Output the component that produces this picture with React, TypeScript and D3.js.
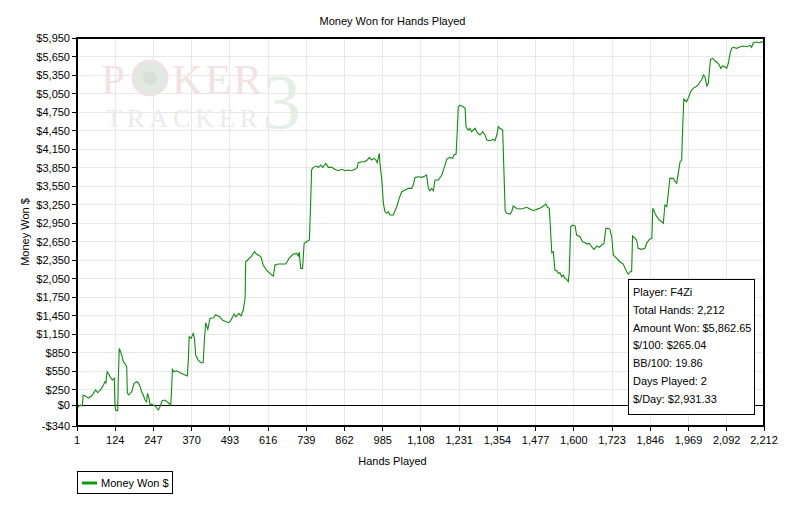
import React from "react";
import * as d3 from "d3";

const hands = [1,11,18,21,32,37,48,61,68,80,86,91,94,98,105,107,115,121,123,125,132,134,137,139,145,150,155,161,163,168,177,185,193,198,204,209,214,220,225,228,233,236,241,252,263,268,275,284,295,303,306,308,313,322,336,349,356,359,362,368,375,379,383,391,400,407,411,415,422,429,440,447,461,469,488,493,507,512,522,529,536,542,544,550,563,572,579,593,600,611,628,633,638,649,673,684,697,708,713,716,721,727,732,740,749,753,756,761,772,778,785,792,802,810,821,831,842,853,864,874,885,896,903,906,917,928,935,942,949,957,963,967,971,974,976,982,987,992,998,1003,1008,1019,1030,1038,1046,1057,1067,1078,1083,1089,1099,1110,1121,1126,1132,1137,1142,1148,1153,1164,1175,1182,1191,1201,1210,1214,1221,1225,1228,1234,1244,1250,1253,1260,1266,1271,1282,1289,1298,1307,1314,1320,1330,1341,1346,1352,1357,1362,1371,1375,1379,1384,1395,1400,1405,1416,1427,1437,1448,1459,1470,1480,1491,1502,1510,1515,1521,1525,1529,1534,1539,1545,1550,1555,1561,1566,1571,1577,1582,1585,1590,1596,1604,1609,1620,1628,1636,1643,1650,1657,1665,1674,1682,1690,1697,1703,1711,1716,1722,1727,1738,1748,1759,1765,1770,1775,1781,1786,1789,1797,1802,1807,1818,1829,1834,1843,1851,1854,1861,1867,1875,1883,1888,1893,1899,1904,1909,1920,1926,1931,1936,1942,1947,1950,1954,1963,1968,1974,1979,1984,1993,2000,2006,2011,2017,2022,2028,2033,2036,2040,2047,2054,2062,2068,2073,2079,2086,2092,2097,2103,2108,2113,2124,2135,2145,2156,2167,2172,2178,2188,2199,2205,2212];

const moneyWon = [-50,0,-16,162,135,113,146,243,199,271,324,378,357,540,486,459,405,433,28,-81,-92,433,919,892,811,702,676,621,190,162,216,352,378,362,297,216,162,81,53,190,109,0,16,-16,-81,-28,70,81,37,0,324,579,540,556,514,486,470,702,1107,1081,1162,1081,811,729,686,686,1054,1334,1227,1405,1415,1459,1431,1378,1334,1350,1475,1431,1487,1443,1540,1730,2323,2351,2415,2485,2448,2404,2270,2188,2107,2091,2270,2286,2286,2383,2448,2459,2415,2480,2216,2216,2621,2647,2675,3296,3810,3853,3874,3850,3891,3853,3918,3853,3853,3821,3798,3821,3798,3810,3798,3821,3853,3928,3944,3944,3972,4015,3972,3999,3972,3928,4015,4080,3918,3647,3270,3134,3108,3134,3080,3080,3215,3351,3458,3485,3513,3513,3566,3691,3701,3691,3712,3729,3513,3474,3513,3474,3647,3647,3729,3837,3983,4015,3999,4053,4069,4458,4836,4863,4836,4810,4512,4458,4486,4430,4486,4414,4377,4430,4377,4296,4285,4307,4285,4377,4512,4486,4458,3793,3145,3108,3096,3134,3226,3186,3177,3186,3205,3177,3150,3172,3189,3226,3258,3205,3189,2837,2469,2485,2188,2177,2135,2145,2080,2107,2054,2038,1999,2135,2890,2918,2902,2756,2728,2647,2631,2610,2621,2566,2524,2578,2556,2594,2621,2864,2864,2848,2728,2432,2378,2323,2286,2216,2161,2124,2161,2161,2740,2702,2675,2540,2524,2540,2621,2686,2702,3189,3108,3053,2999,2971,2946,3242,3215,3432,3675,3675,3620,3594,3756,3944,3972,4458,4961,4917,4972,5053,5106,5134,5160,5188,5241,5269,5350,5322,5171,5215,5403,5604,5620,5581,5549,5512,5458,5496,5484,5458,5539,5701,5782,5799,5782,5808,5820,5808,5831,5799,5873,5885,5873,5890,5863];

const xTicks = [1,124,247,370,493,616,739,862,985,1108,1231,1354,1477,1600,1723,1846,1969,2092,2212];
const yTicks = [-340,0,250,550,850,1150,1450,1750,2050,2350,2650,2950,3250,3550,3850,4150,4450,4750,5050,5350,5650,5950];

const infoLines = [
  "Player: F4Zi",
  "Total Hands: 2,212",
  "Amount Won: $5,862.65",
  "$/100: $265.04",
  "BB/100: 19.86",
  "Days Played: 2",
  "$/Day: $2,931.33",
];

const title = "Money Won for Hands Played";
const xLabel = "Hands Played";
const yLabel = "Money Won $";
const seriesName = "Money Won $";

const W = 785, H = 510;
const L = 77, R = 764, T = 38, B = 426;
const FONT = "'Liberation Sans', Arial, sans-serif";
const SERIF = "'Liberation Serif', 'DejaVu Serif', serif";

function fmtMoney(v: number) {
  const s = d3.format(",")(Math.abs(v));
  return (v < 0 ? "-$" : "$") + s;
}

export default function App() {
  const x = d3.scaleLinear().domain([1, 2212]).range([L, R]);
  const y = d3.scaleLinear().domain([-340, 5950]).range([B, T]);
  const pts = hands.map((h, i) => [h, moneyWon[i]] as [number, number]);
  const line = d3.line<[number, number]>().x(d => x(d[0])).y(d => y(d[1]));

  return (
    <svg width={W} height={H} style={{ position: "absolute", left: 0, top: 0, background: "#fff" }} fontFamily={FONT}>
      <rect x={0} y={0} width={W} height={H} fill="#fff" />
      {/* grid */}
      {xTicks.map(t => (
        <line key={"gx" + t} x1={x(t)} x2={x(t)} y1={T} y2={B} stroke="#e8e8e8" strokeWidth={1} shapeRendering="crispEdges" />
      ))}
      {yTicks.map(t => (
        <line key={"gy" + t} x1={L} x2={R} y1={y(t)} y2={y(t)} stroke="#e8e8e8" strokeWidth={1} shapeRendering="crispEdges" />
      ))}
      {/* watermark */}
      <g>
        <text x={101} y={94} fontFamily={SERIF} fontSize={43} fill="#f3e2e2">P</text>
        <circle cx={150} cy={78} r={17} fill="#e2e8e2" stroke="#f0e2e2" strokeWidth={3} />
        <circle cx={150} cy={78} r={7} fill="#d8dfd8" />
        <text x={172} y={94} fontFamily={SERIF} fontSize={43} fill="#f3e2e2" letterSpacing={2}>KER</text>
        <text x={106} y={127} fontFamily={SERIF} fontSize={26} fill="#ebebeb" letterSpacing={5}>TRACKER</text>
        <text x={262} y={128} fontFamily={SERIF} fontSize={78} fill="#e2ece2" fillOpacity={0.85}>3</text>
      </g>
      {/* zero line */}
      <line x1={L} x2={R} y1={y(0)} y2={y(0)} stroke="#000" strokeWidth={1} shapeRendering="crispEdges" />
      {/* series */}
      <path d={line(pts) || ""} fill="none" stroke="#138a13" strokeWidth={1.1} />
      {/* frame */}
      <rect x={L} y={T} width={R - L} height={B - T} fill="none" stroke="#000" strokeWidth={1.2} shapeRendering="crispEdges" />
      {/* y axis */}
      {yTicks.map(t => (
        <g key={"yt" + t}>
          <line x1={L - 5} x2={L} y1={y(t)} y2={y(t)} stroke="#000" shapeRendering="crispEdges" />
          <text x={L - 7} y={y(t) + 4} textAnchor="end" fontSize={11} fill="#000">{fmtMoney(t)}</text>
        </g>
      ))}
      {/* x axis */}
      {xTicks.map(t => (
        <g key={"xt" + t}>
          <line x1={x(t)} x2={x(t)} y1={B} y2={B + 5} stroke="#000" shapeRendering="crispEdges" />
          <text x={x(t)} y={B + 18} textAnchor="middle" fontSize={11} fill="#000">{d3.format(",")(t)}</text>
        </g>
      ))}
      {/* titles */}
      <text x={W / 2} y={25} textAnchor="middle" fontSize={11} fill="#000">{title}</text>
      <text x={W / 2} y={465} textAnchor="middle" fontSize={11} fill="#000">{xLabel}</text>
      <text transform={`translate(29, ${(T + B) / 2}) rotate(-90)`} textAnchor="middle" fontSize={11} fill="#000">{yLabel}</text>
      {/* info box */}
      <rect x={628.5} y={279.5} width={126} height={135} fill="#fff" stroke="#000" strokeWidth={1} />
      {infoLines.map((s, i) => (
        <text key={s} x={633} y={296 + i * 17.8} fontSize={11} fill="#000">{s}</text>
      ))}
      {/* legend */}
      <rect x={77.5} y={471.5} width={95} height={22} fill="#fff" stroke="#000" strokeWidth={1} />
      <line x1={82} x2={97} y1={483} y2={483} stroke="#109a10" strokeWidth={3} />
      <text x={101} y={487} fontSize={11} fill="#000">{seriesName}</text>
    </svg>
  );
}
